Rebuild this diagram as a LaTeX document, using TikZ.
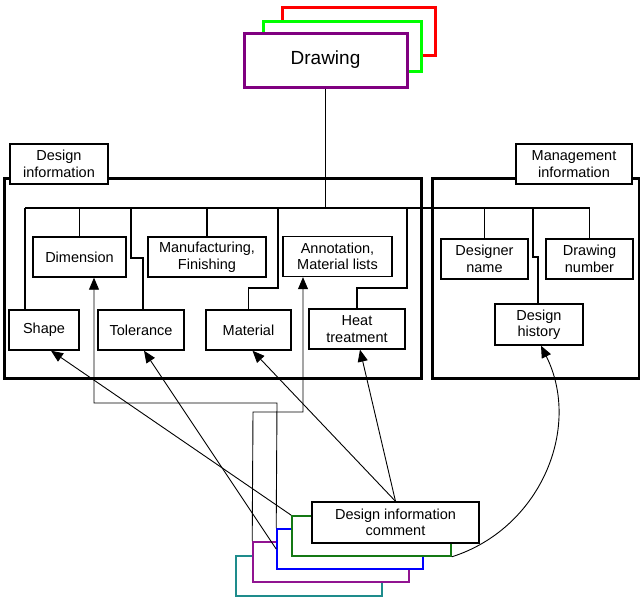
\documentclass[tikz,border=0pt]{standalone}
\usepackage{fontspec}
\setmainfont{Liberation Sans}
\usetikzlibrary{arrows.meta,calc}
\definecolor{dpurple}{RGB}{128,0,128}
\definecolor{dgreen}{RGB}{20,120,20}
\definecolor{cpurple}{RGB}{145,20,145}
\definecolor{cteal}{RGB}{30,140,140}
\begin{document}
\begin{tikzpicture}[x=1pt,y=-1pt,
  lbl/.style={font=\fontsize{14.5}{16.5}\selectfont, align=center, inner sep=0pt},
  box/.style={lbl, draw, line width=1.4pt, fill=white, minimum height=40pt},
  panel/.style={draw, line width=3pt, inner sep=0pt},
  tab/.style={lbl, draw, line width=2.5pt, fill=white, minimum height=40pt},
  stackbox/.style={draw, line width=3pt, fill=white, inner sep=0pt},
  cstack/.style={draw, line width=1.6pt, fill=white, inner sep=0pt, minimum height=40pt},
  bus/.style={line width=1.3pt},
  arr/.style={line width=0.9pt, -{Triangle[length=12pt,width=10pt]}},
  link/.style={line width=0.9pt}]
\useasboundingbox (0,0) rectangle (640,597);

% Drawing stack
\node[stackbox, draw=red, minimum width=153pt, minimum height=48pt] (drawR) at (358.5,31) {};
\node[stackbox, draw=green, minimum width=158pt, minimum height=50pt] (drawG) at (342,46) {};
\node[stackbox, draw=dpurple, minimum width=163pt, minimum height=54pt, font=\fontsize{19}{22}\selectfont] (drawing) at (325.5,60) {Drawing};

% Panels
\node[panel, minimum width=417pt, minimum height=200pt] (dpanel) at (212.5,278) {};
\node[panel, minimum width=207pt, minimum height=200pt] (mpanel) at (535.5,278) {};

% Bus
\coordinate (busL) at (25,208);
\coordinate (busR) at (590,208);
\draw[bus] (drawing.south) -- (drawing.south |- busL);
\draw[bus] (busL) -- (busR);

% Tabs
\node[tab, minimum width=98pt] (dlabel) at (59,164) {Design\\information};
\node[tab, minimum width=116pt] (mlabel) at (574,164) {Management\\information};

% Inner boxes
\node[box, minimum width=93pt] (dim) at (79.5,257) {Dimension};
\node[box, minimum width=118pt] (manu) at (207,257) {Manufacturing,\\Finishing};
\node[box, minimum width=109pt] (ann) at (337.5,256.5) {Annotation,\\Material lists};
\node[box, minimum width=70pt] (shape) at (44,330) {Shape};
\node[box, minimum width=86pt] (tol) at (141,330) {Tolerance};
\node[box, minimum width=85pt] (mat) at (248.5,330) {Material};
\node[box, minimum width=96pt] (heat) at (357,329) {Heat\\treatment};
\node[box, minimum width=87pt] (dname) at (484.5,259) {Designer\\name};
\node[box, minimum width=87pt] (dnum) at (589.5,259) {Drawing\\number};
\node[box, minimum width=88pt, minimum height=41pt] (hist) at (539,324.5) {Design\\history};

% Drops from bus
\draw[bus] ([xshift=-19pt]shape.north) -- (busL);
\draw[bus] (dim.north) -- (dim.north |- busL);
\draw[bus] ([xshift=2pt]tol.north) |- (131,258) -- (131,208);
\draw[bus] (manu.north) -- (manu.north |- busL);
\draw[bus] (mat.north) |- (278,288) -- (278,208);
\draw[bus] (heat.north) |- (407,288) -- (407,208);
\draw[bus] (dname.north) -- (dname.north |- busL);
\draw[bus] ([xshift=-1pt]hist.north) |- (533,257) -- (533,208);
\draw[bus] (dnum.north) -- (dnum.north |- busL);

% Comment stack
\node[cstack, draw=cteal, minimum width=146pt] (cteal) at (309,576) {};
\node[cstack, draw=cpurple, minimum width=156pt] (cpurple) at (331,562) {};
\node[cstack, draw=blue, minimum width=146pt] (cblue) at (350,549) {};
\node[cstack, draw=dgreen, minimum width=159pt] (cgreen) at (371.5,536) {};
\node[box, minimum width=167pt, minimum height=41pt] (comment) at (395.5,522.5) {Design information\\comment};

% Connectors
\draw[arr] (cgreen.north west) -- ([xshift=7pt]shape.south);
\draw[arr] (cblue.west) -- ([xshift=3pt]tol.south);
\draw[arr] (comment.north) -- ([xshift=4pt]mat.south);
\draw[arr] (comment.north) -- ([xshift=3pt]heat.south);
\draw[arr] (cblue.north west) -- (277,403) -| ([xshift=14.5pt]dim.south);
\draw[arr] (cpurple.north west) -- (253,412) -| ([xshift=-34.5pt]ann.south);
\draw[arr] (cgreen.south east) .. controls (539.5,529.1) and (582.4,428.6) .. ([xshift=2pt]hist.south);
\end{tikzpicture}
\end{document}
